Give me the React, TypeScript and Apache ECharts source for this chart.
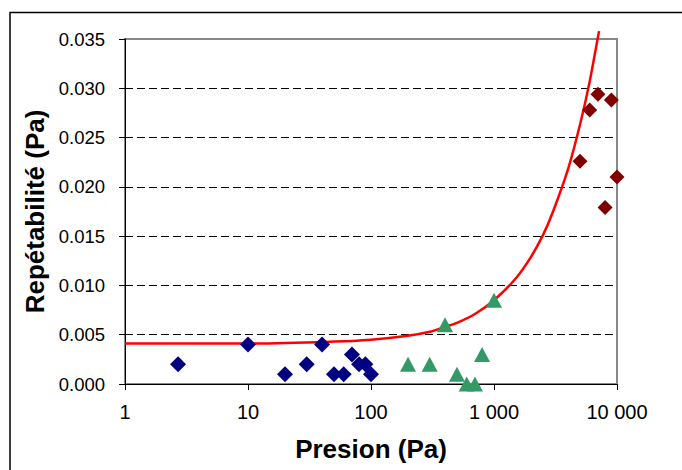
import { useEffect, useRef } from "react";
import * as echarts from "echarts";

// Blue series (diamonds)
const blueX = [2.7, 10, 20, 30, 40, 50, 60, 70, 80, 90, 100];
const blueY = [0.002, 0.004, 0.001, 0.002, 0.004, 0.001, 0.001, 0.003, 0.002, 0.002, 0.001];
// Green series (triangles)
const greenX = [200, 300, 400, 500, 600, 700, 800, 1000];
const greenY = [0.002, 0.002, 0.006, 0.001, 0.0, 0.0, 0.003, 0.0085];
// Dark red series (diamonds)
const redX = [5000, 6000, 7000, 8000, 9000, 10000];
const redY = [0.0226, 0.0278, 0.0294, 0.0179, 0.0288, 0.021];
// Red trend curve
const curveX = [1, 10, 50, 100, 200, 300, 400, 500, 700, 1000, 1500, 2000, 2500, 3000, 4000, 5000, 6000, 7000, 7150];
const curveY = [0.0041, 0.0041, 0.0043, 0.0045, 0.0049, 0.0053, 0.0058, 0.0062, 0.0071, 0.0085, 0.0107, 0.0129, 0.0151, 0.0174, 0.0218, 0.0263, 0.0307, 0.0352, 0.0358];

const xTickValues = [1, 10, 100, 1000, 10000];
const xTickLabels = ["1", "10", "100", "1 000", "10 000"];
const yTickLabels = ["0.000", "0.005", "0.010", "0.015", "0.020", "0.025", "0.030", "0.035"];

const xTitle = "Presion (Pa)";
const yTitle = "Repétabilité (Pa)";

const zip = (xs: number[], ys: number[]) => xs.map((x, i) => [x, ys[i]]);

export default function App() {
  const ref = useRef<HTMLDivElement>(null);
  useEffect(() => {
    if (!ref.current) return;
    const chart = echarts.init(ref.current, undefined, { renderer: "svg" });
    const font = "'Liberation Sans', Arial, sans-serif";
    chart.setOption({
      animation: false,
      backgroundColor: "#fff",
      textStyle: { fontFamily: font },
      grid: {
        left: 125,
        right: 65,
        top: 39,
        bottom: 86,
        show: true,
        borderColor: "#888",
        borderWidth: 2,
        backgroundColor: "transparent",
      },
      graphic: [
        {
          type: "rect",
          silent: true,
          z: -1,
          shape: { x: 10, y: 12.5, width: 800, height: 600 },
          style: { fill: "none", stroke: "#000", lineWidth: 1.5 },
        },
      ],
      xAxis: {
        type: "log",
        logBase: 10,
        min: 1,
        max: 10000,
        name: xTitle,
        nameLocation: "middle",
        nameGap: 52,
        nameTextStyle: { fontSize: 26, fontWeight: "bold", color: "#000", fontFamily: font },
        axisLine: { show: true, onZero: false, lineStyle: { color: "#000", width: 1 } },
        axisTick: { show: true, length: 6, lineStyle: { color: "#000" } },
        minorTick: { show: false },
        splitLine: { show: false },
        axisLabel: {
          fontSize: 20,
          color: "#000",
          margin: 18,
          fontFamily: font,
          formatter: (v: number) => {
            const i = xTickValues.findIndex((t) => Math.abs(t - v) / t < 1e-6);
            return i >= 0 ? xTickLabels[i] : "";
          },
        },
      },
      yAxis: {
        type: "value",
        min: 0,
        max: 0.035,
        interval: 0.005,
        name: yTitle,
        nameLocation: "middle",
        nameGap: 64,
        nameTextStyle: { fontSize: 26, fontWeight: "bold", color: "#000", fontFamily: font },
        axisLine: { show: true, lineStyle: { color: "#000", width: 1 } },
        axisTick: { show: true, length: 6, lineStyle: { color: "#000" } },
        splitLine: {
          show: true,
          lineStyle: {
            color: ["#000", "#000", "#000", "#000", "#000", "#000", "#000", "transparent"],
            type: [8, 4],
            width: 1,
          },
        },
        axisLabel: {
          fontSize: 18.5,
          color: "#000",
          margin: 20,
          fontFamily: font,
          formatter: (v: number) => {
            const i = Math.round(v / 0.005);
            return yTickLabels[i] ?? "";
          },
        },
      },
      series: [
        {
          type: "line",
          data: zip(curveX, curveY),
          showSymbol: false,
          smooth: 0.3,
          clip: false,
          lineStyle: { color: "#ff0000", width: 2.5 },
          z: 2,
        },
        {
          type: "scatter",
          data: zip(blueX, blueY),
          symbol: "diamond",
          symbolSize: 16,
          clip: false,
          itemStyle: { color: "#000080", opacity: 1 },
          z: 3,
        },
        {
          type: "scatter",
          data: zip(greenX, greenY),
          symbol: "triangle",
          symbolSize: [16, 15],
          clip: false,
          itemStyle: { color: "#339966", opacity: 1 },
          z: 3,
        },
        {
          type: "scatter",
          data: zip(redX, redY),
          symbol: "diamond",
          symbolSize: 15,
          clip: false,
          itemStyle: { color: "#800000", opacity: 1 },
          z: 3,
        },
      ],
    });
    return () => chart.dispose();
  }, []);
  return (
    <div
      ref={ref}
      style={{ position: "fixed", left: 0, top: 0, width: 682, height: 470 }}
    />
  );
}
